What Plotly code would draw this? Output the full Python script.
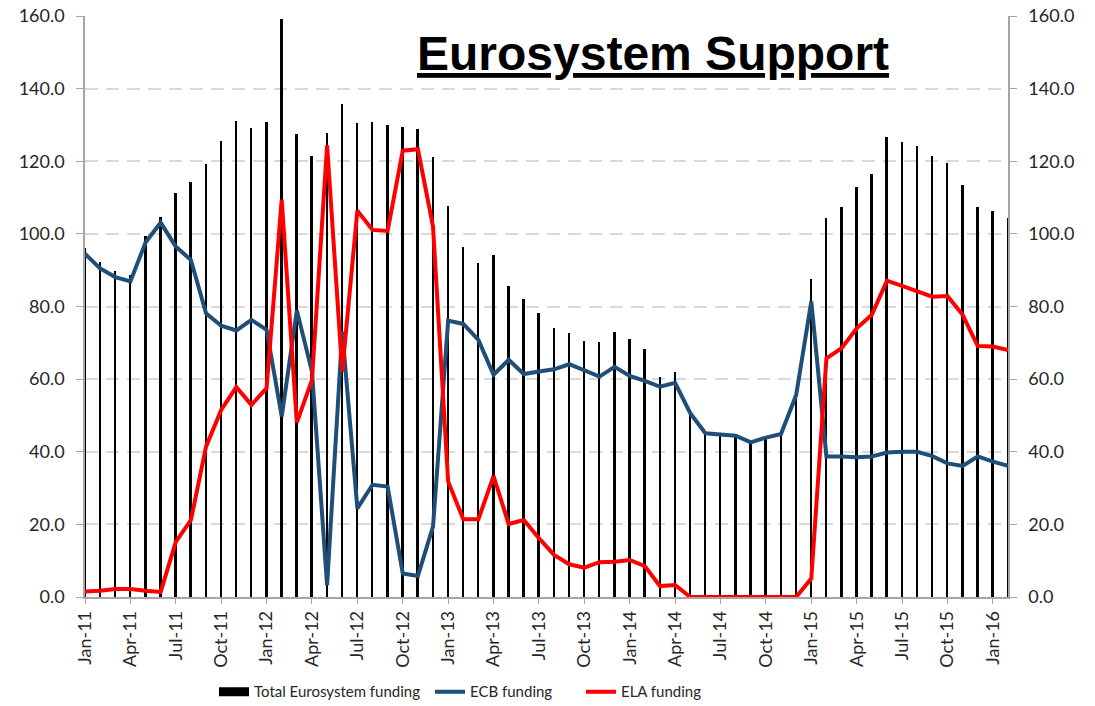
import plotly.graph_objects as go

# Monthly observations, EUR bn
months = [f"{m}-{y}" for y in range(11, 17) for m in
          ["Jan", "Feb", "Mar", "Apr", "May", "Jun", "Jul", "Aug", "Sep", "Oct", "Nov", "Dec"]][:62]

total_funding = [
    96.1, 92.2, 89.9, 88.7, 99.4, 104.6, 111.2, 114.4, 119.2, 125.6, 131.2, 129.2,
    130.9, 159.1, 127.5, 121.5, 127.7, 135.7, 130.5, 130.9, 130.1, 129.5, 129.0, 121.2,
    107.8, 96.3, 92.0, 94.3, 85.6, 82.2, 78.1, 74.2, 72.8, 70.6, 70.2, 73.1,
    71.0, 68.2, 60.7, 62.1, 50.6, 45.1, 44.8, 44.4, 42.6, 43.9, 44.9, 55.6,
    87.5, 104.3, 107.3, 112.8, 116.5, 126.6, 125.2, 124.1, 121.5, 119.5, 113.4, 107.5,
    106.2, 104.3,
]

ecb_funding = [
    94.5, 90.5, 88.1, 86.9, 97.6, 103.1, 96.5, 92.8, 78.1, 74.7, 73.4, 76.3,
    73.6, 49.7, 78.9, 62.1, 3.3, 73.1, 24.4, 30.9, 30.4, 6.5, 5.8, 19.4,
    76.1, 75.2, 70.8, 61.2, 65.3, 61.4, 62.1, 62.7, 64.1, 62.5, 60.7, 63.4,
    60.9, 59.5, 57.9, 59.0, 50.6, 45.1, 44.8, 44.4, 42.6, 43.9, 44.9, 55.6,
    81.4, 38.7, 38.7, 38.5, 38.7, 39.8, 40.0, 40.0, 38.8, 36.8, 36.1, 38.7,
    37.3, 36.1,
]

ela_funding = [
    1.5, 1.7, 2.2, 2.2, 1.7, 1.4, 15.2, 21.2, 41.4, 51.5, 57.8, 52.9,
    57.5, 109.4, 48.0, 59.8, 124.4, 62.1, 106.4, 101.1, 100.8, 122.9, 123.3, 102.0,
    31.8, 21.4, 21.4, 33.3, 20.1, 21.2, 16.2, 11.6, 9.0, 8.1, 9.6, 9.7,
    10.2, 8.5, 3.0, 3.3, 0, 0, 0, 0, 0, 0, 0, 0,
    5.1, 65.7, 68.5, 74.0, 77.7, 87.1, 85.7, 84.1, 82.7, 82.9, 77.7, 69.1,
    69.0, 68.0,
]

quarter_ticks = months[::3]
y_ticks = [0, 20, 40, 60, 80, 100, 120, 140, 160]

FONT = "Lato"
ECB_BLUE = "#1F4E79"
ELA_RED = "#FF0000"
GRID = "#D9D9D9"
AXIS = "#A6A6A6"
TEXT = "#262626"

fig = go.Figure()

fig.add_trace(go.Bar(
    x=months, y=total_funding, name="Total Eurosystem funding",
    marker=dict(color="black", line=dict(width=0)), width=0.13,
    showlegend=False, legendgroup="total",
))
# legend key for the total: a wide black block
fig.add_trace(go.Scatter(
    x=[None], y=[None], mode="lines", name="Total Eurosystem funding",
    line=dict(color="black", width=9), legendgroup="total", legend="legend",
))
fig.add_trace(go.Scatter(
    x=months, y=ecb_funding, mode="lines", name="ECB funding",
    line=dict(color=ECB_BLUE, width=4), legend="legend2",
))
fig.add_trace(go.Scatter(
    x=months, y=ela_funding, mode="lines", name="ELA funding",
    line=dict(color=ELA_RED, width=4), legend="legend3",
))

tick_font = dict(family=FONT, size=18, color=TEXT)


def legend_box(x_px):
    # one legend entry, anchored at a pixel offset along the bottom strip
    return dict(
        orientation="h", xref="container", yref="container",
        x=x_px / 1095, xanchor="left", y=0.02, yanchor="middle",
        font=dict(family=FONT, size=15, color=TEXT),
        itemwidth=30, bgcolor="rgba(0,0,0,0)",
    )


fig.update_layout(
    width=1095, height=706,
    margin=dict(l=85, r=87, t=16, b=109),
    paper_bgcolor="white", plot_bgcolor="white",
    bargap=0,
    font=dict(family=FONT, color=TEXT),
    xaxis=dict(
        type="category", categoryorder="array", categoryarray=months,
        range=[0, 61],
        tickmode="array", tickvals=quarter_ticks, ticktext=quarter_ticks,
        tickangle=-90, tickfont=dict(family=FONT, size=18, color=TEXT),
        ticks="outside", ticklen=5, tickcolor=AXIS,
        showline=True, linecolor=AXIS, linewidth=1.5,
        showgrid=False, zeroline=False, automargin=False,
    ),
    yaxis=dict(
        range=[0, 160], tickvals=y_ticks, tickformat=".1f",
        tickfont=tick_font, ticks="outside", ticklen=7, tickcolor=AXIS,
        ticklabelstandoff=8,
        showline=True, linecolor=AXIS, linewidth=1.5,
        showgrid=True, gridcolor=GRID, gridwidth=2, griddash="13px,8px",
        zeroline=False, automargin=False,
    ),
    yaxis2=dict(
        range=[0, 160], tickvals=y_ticks, tickformat=".1f",
        overlaying="y", side="right", matches="y",
        tickfont=tick_font, ticks="outside", ticklen=7, tickcolor=AXIS,
        ticklabelstandoff=8,
        showline=True, linecolor=AXIS, linewidth=1.5,
        showgrid=False, zeroline=False, automargin=False,
    ),
    legend=legend_box(214),
    legend2=legend_box(430),
    legend3=legend_box(581),
    annotations=[dict(
        text='<span style="text-decoration:underline">Eurosystem Support</span>',
        xref="paper", yref="paper", x=0.615, y=0.936,
        xanchor="center", yanchor="middle", showarrow=False,
        font=dict(family="Liberation Sans", size=48, color="black", weight="bold"),
    )],
)

# attach the right-hand axis so it is drawn
fig.add_trace(go.Scatter(x=[months[0]], y=[0], yaxis="y2", mode="markers",
                         marker=dict(opacity=0), showlegend=False, hoverinfo="skip"))

fig.write_html("out.html")
